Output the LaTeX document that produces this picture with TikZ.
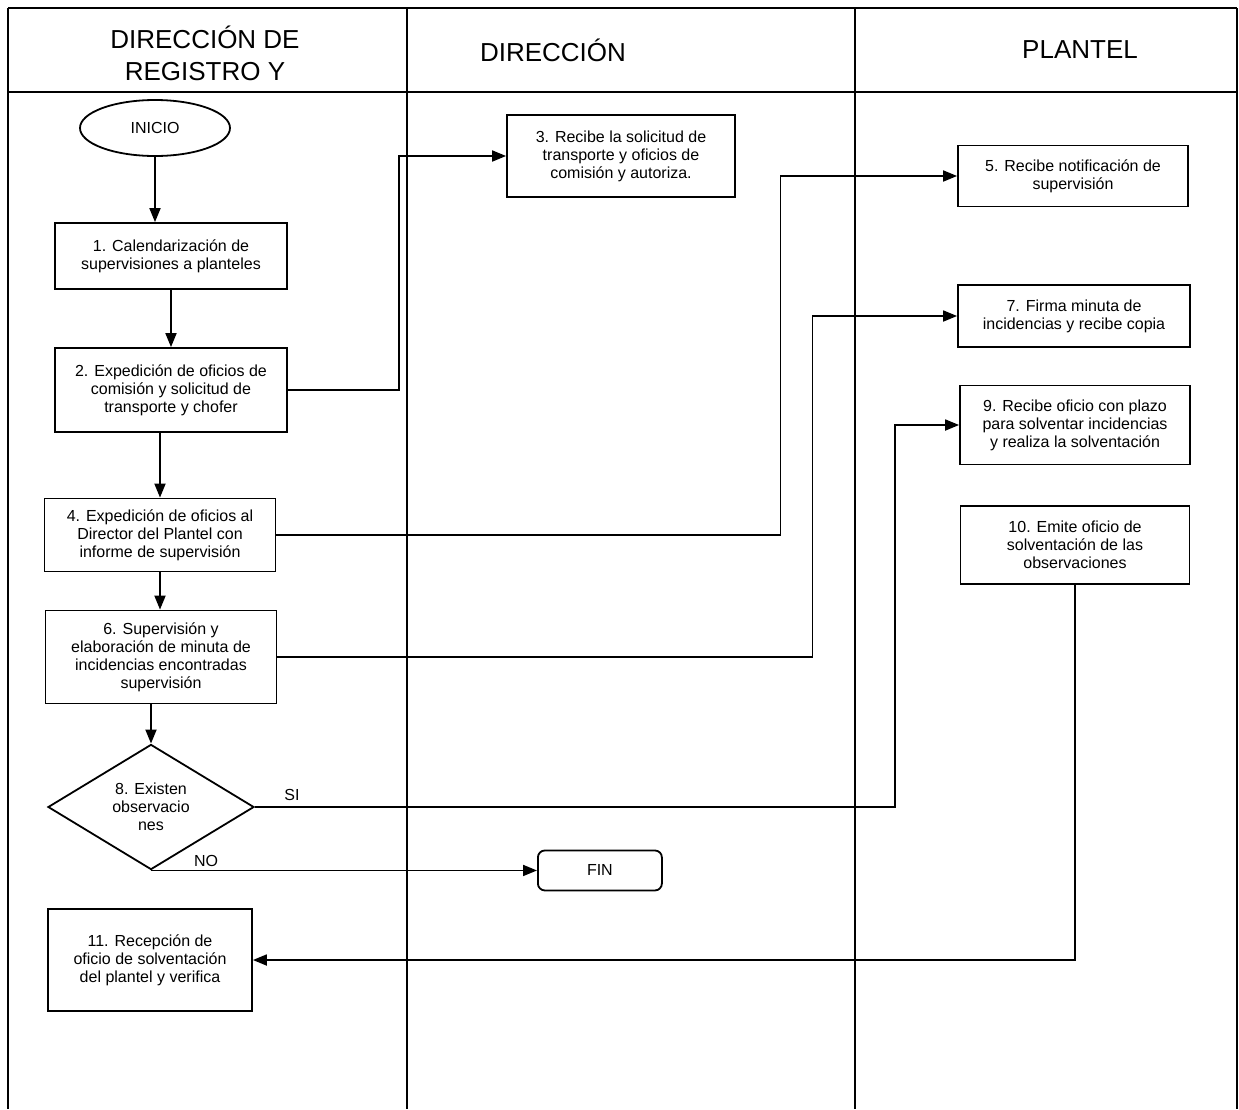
\documentclass[tikz,border=0pt]{standalone}
\usepackage{fontspec}
\setmainfont{Liberation Sans}
\usepackage{tikz}
\usetikzlibrary{arrows.meta,calc,positioning,shapes.geometric}

\begin{document}
\begin{tikzpicture}[x=1pt, y=-1pt, line width=1.8pt,
  every node/.style={font=\fontsize{16}{18}\selectfont},
  proc/.style={draw, align=center, inner sep=2pt},
  flecha/.style={-{Triangle[length=14pt,width=11pt]}},
  lane/.style={font=\fontsize{26}{32}\selectfont, align=center}]
  \useasboundingbox (0,0) rectangle (1239,1109);
  \draw (8,8) -- (1237,8);
  \draw (8,92) -- (1237,92);
  \draw (8,8) -- (8,1109);
  \draw (407,8) -- (407,1109);
  \draw (855,8) -- (855,1109);
  \draw (1237,8) -- (1237,1109);
  \node[lane] (l1) at (205,53) {DIRECCIÓN DE\\REGISTRO Y};
  \node[lane] (l2) at (553,50) {DIRECCIÓN};
  \node[lane] (l3) at (1080,50) {PLANTEL};
  \node[draw, ellipse, minimum width=150pt, minimum height=56pt] (inicio) at (155,128) {INICIO};
  \node[proc, minimum width=232pt, minimum height=66pt] (cal) at (171,256) {1. Calendarización de\\supervisiones a planteles};
  \node[proc, minimum width=232pt, minimum height=84pt] (exp) at (171,390) {2. Expedición de oficios de\\comisión y solicitud de\\transporte y chofer};
  \node[proc, minimum width=228pt, minimum height=82pt] (rec) at (621,156) {3. Recibe la solicitud de\\transporte y oficios de\\comisión y autoriza.};
  \node[proc, minimum width=231pt, minimum height=73pt] (inf) at (160,535) {4. Expedición de oficios al\\Director del Plantel con\\informe de supervisión};
  \node[proc, minimum width=230pt, minimum height=61pt] (noti) at (1073,176) {5. Recibe notificación de\\supervisión};
  \node[proc, minimum width=231pt, minimum height=93pt] (sup) at (161,657) {6. Supervisión y\\elaboración de minuta de\\incidencias encontradas\\supervisión};
  \node[proc, minimum width=232pt, minimum height=62pt] (firma) at (1074,316) {7. Firma minuta de\\incidencias y recibe copia};
  \node[draw, diamond, align=center, inner sep=0pt, minimum width=206pt, minimum height=118pt] (obs) at (151,807) {8. Existen\\observacio\\nes};
  \node[proc, minimum width=230pt, minimum height=79pt] (plazo) at (1075,425) {9. Recibe oficio con plazo\\para solventar incidencias\\y realiza la solventación};
  \node[proc, minimum width=229pt, minimum height=78pt] (emite) at (1075,545) {10. Emite oficio de\\solventación de las\\observaciones};
  \node[proc, minimum width=204pt, minimum height=102pt] (verif) at (150,960) {11. Recepción de\\oficio de solventación\\del plantel y verifica};
  \node[draw, rounded corners=7pt, minimum width=124pt, minimum height=40pt, anchor=west] (fin) at (obs.south -| 537,0) {FIN};
  \draw[flecha] (inicio) -- (inicio |- cal.north);
  \draw[flecha] (cal) -- (cal |- exp.north);
  \draw[flecha] (inf.north |- exp.south) -- (inf.north);
  \draw[flecha] (inf) -- (inf |- sup.north);
  \draw[flecha] (obs.north |- sup.south) -- (obs.north);
  \draw[flecha] (exp.east) -- ++(111,0) |- (rec.west);
  \draw[flecha] (inf.east) -- ++(504,0) |- (noti.west);
  \draw[flecha] (sup.east) -- ++(535,0) |- (firma.west);
  \draw[flecha] (obs.east) -- ++(640,0) node[pos=0.03, above right=2pt and 6pt] (si) {SI} |- (plazo.west);
  \draw[flecha] (obs.south) -- (fin.west) node[pos=0.08, above right=0pt and 8pt] (no) {NO};
  \draw[flecha] (emite.south) |- (verif.east);
\end{tikzpicture}
\end{document}
